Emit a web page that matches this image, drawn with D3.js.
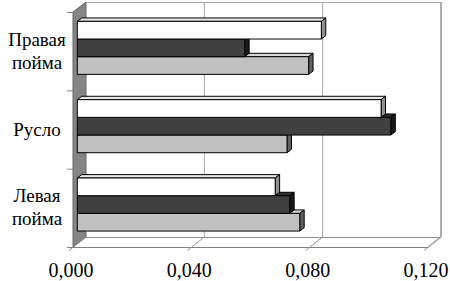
<!DOCTYPE html>
<html>
<head>
	<meta charset='utf-8'>
	<script src='https://cdn.jsdelivr.net/npm/d3@7'></script>
</head>
<body style="margin:0">
	<svg width='450' height='281'></svg>
	<script>
		// данные
		const categories = ['Правая пойма', 'Русло', 'Левая пойма']
		const series = ['s3', 's2', 's1'] // сверху вниз внутри группы
		const s1 = [0.0782, 0.0709, 0.0752]   // светло-серый
		const s2 = [0.0566, 0.1060, 0.0718]   // тёмный
		const s3 = [0.0825, 0.1027, 0.0669]   // белый
		const xTicks = [0, 0.04, 0.08, 0.12]

		const values = { s1, s2, s3 }
		const fills = { s1: '#c0c0c0', s2: '#404040', s3: '#ffffff' }
		const topFills = { s1: '#d8d8d8', s2: '#303030', s3: '#e6e6e6' }
		const capFills = { s1: '#606060', s2: '#1a1a1a', s3: '#909090' }

		const svg = d3.select('svg')
		const DX = 13, DY = -10 // глубина
		const f1 = 0.33, f2 = 0.67

		const x = d3.scaleLinear().domain([0, 0.12]).range([73, 428])
		const y = d3.scaleBand().domain(categories).range([12, 247])
		const yIn = d3.scaleBand().domain(series).range([0, y.bandwidth()]).paddingOuter(0.715)

		// левая стенка
		svg.append('path')
			.attr('d', `M73,12 L${73 + DX},${12 + DY} L${73 + DX},${247 + DY} L73,247 Z`)
			.attr('fill', '#858585').attr('stroke', '#666').attr('stroke-width', 1)

		// задняя стенка: сетка
		const g = svg.append('g').attr('stroke', '#a8a8a8').attr('stroke-width', 1)
		g.selectAll('line.grid').data(xTicks.slice(1)).join('line')
			.attr('x1', d => x(d) + DX).attr('x2', d => x(d) + DX)
			.attr('y1', 12 + DY).attr('y2', 247 + DY)
		g.append('line').attr('x1', 73 + DX).attr('x2', x(0.12) + DX)
			.attr('y1', 12 + DY + 0.5).attr('y2', 12 + DY + 0.5)

		// пол
		const fl = svg.append('g').attr('stroke', '#909090').attr('stroke-width', 1).attr('fill', 'none')
		fl.append('line').attr('x1', 73 + DX).attr('x2', x(0.12) + DX).attr('y1', 247 + DY + 0.5).attr('y2', 247 + DY + 0.5)
		fl.append('line').attr('x1', 73).attr('x2', x(0.12)).attr('y1', 247.5).attr('y2', 247.5).attr('stroke', '#808080')
		fl.selectAll('line.diag').data(xTicks).join('line')
			.attr('x1', d => x(d) - 4).attr('y1', 250.5)
			.attr('x2', d => x(d) + DX).attr('y2', 247 + DY)

		// левые деления
		svg.append('g').attr('stroke', '#808080')
			.selectAll('line').data([12, 12 + y.step(), 12 + 2 * y.step(), 247]).join('line')
			.attr('x1', 67).attr('x2', 73).attr('y1', d => d + 0.5).attr('y2', d => d + 0.5)

		// столбцы (снизу вверх)
		const ddx = (f2 - f1) * DX, ddy = (f2 - f1) * DY
		const bars = svg.append('g').attr('stroke', '#000').attr('stroke-width', 1).attr('stroke-linejoin', 'round')
		categories.forEach((c, i) => {
			series.slice().reverse().forEach(s => {
				const v = values[s][i]
				const x0 = x(0) + f1 * DX, x1 = x(v) + f1 * DX
				const y0 = y(c) + yIn(s) + f1 * DY, h = yIn.bandwidth()
				const b = bars.append('g')
				b.append('path').attr('fill', topFills[s])
					.attr('d', `M${x0},${y0} L${x0 + ddx},${y0 + ddy} L${x1 + ddx},${y0 + ddy} L${x1},${y0} Z`)
				b.append('path').attr('fill', capFills[s])
					.attr('d', `M${x1},${y0} L${x1 + ddx},${y0 + ddy} L${x1 + ddx},${y0 + h + ddy} L${x1},${y0 + h} Z`)
				b.append('rect').attr('fill', fills[s])
					.attr('x', x0).attr('y', y0).attr('width', x1 - x0).attr('height', h)
			})
		})

		// правая грань
		svg.append('path').attr('fill', 'none').attr('stroke', '#a0a0a0').attr('stroke-width', 1.5)
			.attr('d', `M${x(0.12) + DX},${12 + DY} L${x(0.12) + DX},${247 + DY} L${x(0.12)},247`)

		// подписи категорий
		const labels = []
		categories.forEach(c => {
			const words = c.split(' ')
			words.forEach((w, k) => labels.push({ c, w, k, n: words.length }))
		})
		svg.selectAll('text.cat').data(labels).join('text')
			.attr('class', 'cat')
			.attr('x', 37)
			.attr('y', d => y(d.c) + y.bandwidth() / 2 + 6 + (d.k - (d.n - 1) / 2) * 23)
			.attr('text-anchor', 'middle')
			.style('font-family', 'Liberation Serif, Tinos, Times New Roman, serif')
			.style('font-size', '19px')
			.text(d => d.w)

		// подписи оси X
		svg.selectAll('text.tick').data(xTicks).join('text')
			.attr('class', 'tick')
			.attr('x', d => x(d) - 2).attr('y', 277)
			.attr('text-anchor', 'middle')
			.style('font-family', 'Liberation Serif, Tinos, Times New Roman, serif')
			.style('font-size', '20px')
			.text(d => d3.format('.3f')(d).replace('.', ','))
	</script>
</body>
</html>
